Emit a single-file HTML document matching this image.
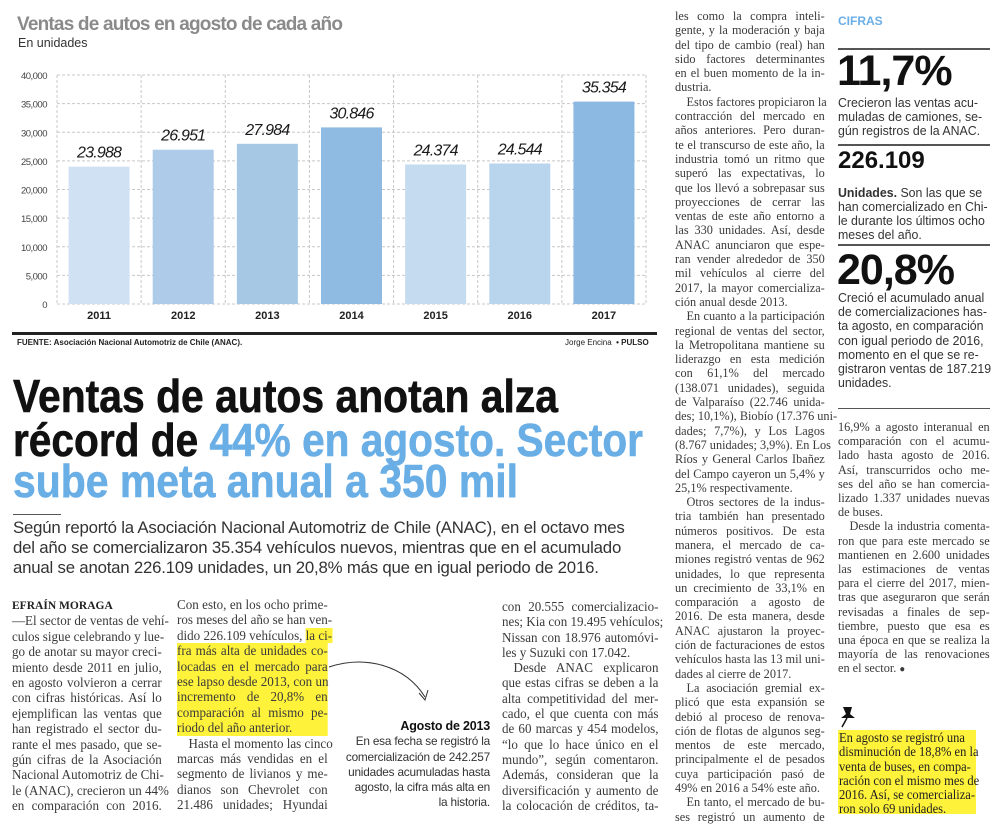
<!DOCTYPE html>
<html><head><meta charset="utf-8">
<style>
html,body{margin:0;padding:0;background:#fff;}
body{width:1000px;height:829px;position:relative;overflow:hidden;font-family:"Liberation Serif",serif;color:#333;}
.abs{position:absolute;}
.col{position:absolute;transform-origin:0 0;font-family:"Liberation Serif",serif;color:#3a3a3a;}
.col div{text-align:justify;text-align-last:justify;white-space:nowrap;overflow:visible;}
.col div.l{text-align-last:left;}
.col div.i{padding-left:12px;}
.sans{font-family:"Liberation Sans",sans-serif;}
.hl{background:#fff23a;}
.rule{position:absolute;height:2px;background:#555;}
.sc{position:absolute;transform-origin:0 0;font-family:"Liberation Sans",sans-serif;color:#333;}
.sc div{white-space:nowrap;}
</style></head><body>

<!-- Chart -->
<div class="abs sans" style="left:17px;top:14px;font-size:19px;font-weight:bold;color:#8a8a8a;letter-spacing:-0.8px;">Ventas de autos en agosto de cada año</div>
<div class="abs sans" style="left:18px;top:36px;font-size:12.5px;color:#333;">En unidades</div>
<svg class="abs" id="chart" style="left:0;top:60px;" width="665" height="270"></svg>
<div class="abs" style="left:12px;top:332px;width:645px;height:3px;background:#222;"></div>
<div class="abs sans" style="left:17px;top:338px;font-size:8px;font-weight:bold;color:#222;">FUENTE: Asociación Nacional Automotriz de Chile (ANAC).</div>
<div class="abs sans" style="left:565px;top:338px;font-size:8px;color:#222;">Jorge Encina &nbsp;<b>• PULSO</b></div>

<script>
const years=["2011","2012","2013","2014","2015","2016","2017"];
const sales=[23988,26951,27984,30846,24374,24544,35354];
const valueLabels=["23.988","26.951","27.984","30.846","24.374","24.544","35.354"];
const yTicks=[0,5000,10000,15000,20000,25000,30000,35000,40000];
const yTickLabels=["0","5,000","10,000","15,000","20,000","25,000","30,000","35,000","40,000"];
const barColors=["#cfe1f3","#aecbea","#a6c8e5","#8fbbe2","#c5dbf0","#b9d5ed","#8bb9e2"];
(function(){
const svg=document.getElementById('chart');
const NS="http://www.w3.org/2000/svg";
const L=57,R=646,T=15,B=244,yMax=40000;
const y=v=>B-(v/yMax)*(B-T);
const cw=(R-L)/years.length;
const x=i=>L+i*cw;
function mk(t,a){const e=document.createElementNS(NS,t);for(const k in a)e.setAttribute(k,a[k]);svg.appendChild(e);return e;}
yTicks.forEach((t,i)=>{
 const g=mk('line',{x1:L,x2:R,y1:y(t),y2:y(t),stroke:'#c8c8c8','stroke-width':1,'stroke-dasharray':'3,2'});
 
 
 const tx=mk('text',{x:47,y:y(t)+4,'text-anchor':'end','font-family':'Liberation Sans, sans-serif','font-size':9.5,fill:'#444','letter-spacing':'-0.5'});
 tx.textContent=yTickLabels[i];
 
 
});
for(let i=0;i<=years.length;i++){
 const g=mk('line',{x1:x(i),x2:x(i),y1:T,y2:B,stroke:'#c8c8c8','stroke-width':1,'stroke-dasharray':'3,2'});
 
 
}
const bw=61;
years.forEach((yr,i)=>{
 const cx=x(i)+cw/2;
 const r=mk('rect',{x:cx-bw/2,y:y(sales[i]),width:bw,height:B-y(sales[i]),fill:barColors[i]});
 
 
 const v=mk('text',{x:cx,y:y(sales[i])-9,'text-anchor':'middle','font-family':'Liberation Sans, sans-serif','font-size':16,'font-style':'italic',fill:'#1a1a1a','letter-spacing':'-0.8'});
 v.textContent=valueLabels[i];
 
 
 const l=mk('text',{x:cx,y:B+15,'text-anchor':'middle','font-family':'Liberation Sans, sans-serif','font-size':11,'font-weight':'bold',fill:'#222'});
 l.textContent=yr;
 
 
});
})();
</script>

<!-- Headline -->
<svg class="abs" style="left:0;top:360px;" width="665" height="150">
<text x="13" y="52" font-family="Liberation Sans, sans-serif" font-weight="bold" font-size="46" fill="#111" textLength="545" lengthAdjust="spacingAndGlyphs" stroke="#111" stroke-width="0.6">Ventas de autos anotan alza</text>
<text x="13" y="96" font-family="Liberation Sans, sans-serif" font-weight="bold" font-size="46" fill="#111" textLength="630" lengthAdjust="spacingAndGlyphs" stroke="#111" stroke-width="0.6">récord de <tspan fill="#6aaee6" stroke="#6aaee6">44% en agosto. Sector</tspan></text>
<text x="13" y="137" font-family="Liberation Sans, sans-serif" font-weight="bold" font-size="46" fill="#6aaee6" textLength="505" lengthAdjust="spacingAndGlyphs" stroke="#6aaee6" stroke-width="0.6">sube meta anual a 350 mil</text>
</svg>
<div class="abs" style="left:13px;top:514px;width:48px;height:1px;background:#555;"></div>
<div class="abs sans" style="left:13px;top:518px;width:660px;font-size:16.8px;line-height:20px;color:#333;letter-spacing:-0.2px;">Según reportó la Asociación Nacional Automotriz de Chile (ANAC), en el octavo mes<br>del año se comercializaron 35.354 vehículos nuevos, mientras que en el acumulado<br>anual se anotan 226.109 unidades, un 20,8% más que en igual periodo de 2016.</div>

<!-- Lower col 1 -->
<div class="col" style="left:12px;top:597px;width:156px;transform:scaleX(0.96);font-size:13.6px;line-height:15.4px;">
<div class="l"><b style="font-size:12px;color:#222;">EFRAÍN MORAGA</b></div>
<div>—El sector de ventas de vehí-</div>
<div>culos sigue celebrando y lue-</div>
<div>go de anotar su mayor creci-</div>
<div>miento desde 2011 en julio,</div>
<div>en agosto volvieron a cerrar</div>
<div>con cifras históricas. Así lo</div>
<div>ejemplifican las ventas que</div>
<div>han registrado el sector du-</div>
<div>rante el mes pasado, que se-</div>
<div>gún cifras de la Asociación</div>
<div>Nacional Automotriz de Chi-</div>
<div>le (ANAC), crecieron un 44%</div>
<div>en comparación con 2016.</div>
</div>

<!-- Lower col 2 -->
<div class="col" style="left:177px;top:597px;width:157px;transform:scaleX(0.96);font-size:13.6px;line-height:15.4px;">
<div>Con esto, en los ocho prime-</div>
<div>ros meses del año se han ven-</div>
<div>dido 226.109 vehículos, <span class="hl">la ci-</span></div>
<div class="hl">fra más alta de unidades co-</div>
<div class="hl">locadas en el mercado para</div>
<div class="hl">ese lapso desde 2013, con un</div>
<div class="hl">incremento de 20,8% en</div>
<div class="hl">comparación al mismo pe-</div>
<div class="hl l">riodo del año anterior.</div>
<div class="i">Hasta el momento las cinco</div>
<div>marcas más vendidas en el</div>
<div>segmento de livianos y me-</div>
<div>dianos son Chevrolet con</div>
<div>21.486 unidades; Hyundai</div>
</div>

<svg class="abs" style="left:325px;top:655px;" width="110" height="60">
<path d="M4,12 C40,0 80,10 100,42" fill="none" stroke="#333" stroke-width="1"/>
<path d="M94,38 L100,45 L103,35" fill="none" stroke="#333" stroke-width="1"/>
</svg>
<div class="abs sans" style="left:320px;top:719px;width:170px;text-align:right;font-size:11.8px;line-height:15.3px;color:#333;letter-spacing:-0.2px;">
<div style="font-weight:bold;color:#111;font-size:12.5px;">Agosto de 2013</div>
En esa fecha se registró la<br>comercialización de 242.257<br>unidades acumuladas hasta<br>agosto, la cifra más alta en<br>la historia.</div>

<!-- Lower col 3 -->
<div class="col" style="left:502px;top:599px;width:163px;transform:scaleX(0.96);font-size:13.6px;line-height:15.3px;">
<div>con 20.555 comercializacio-</div>
<div>nes; Kia con 19.495 vehículos;</div>
<div>Nissan con 18.976 automóvi-</div>
<div class="l">les y Suzuki con 17.042.</div>
<div class="i">Desde ANAC explicaron</div>
<div>que estas cifras se deben a la</div>
<div>alta competitividad del mer-</div>
<div>cado, el que cuenta con más</div>
<div>de 60 marcas y 454 modelos,</div>
<div>“lo que lo hace único en el</div>
<div>mundo”, según comentaron.</div>
<div>Además, consideran que la</div>
<div>diversificación y aumento de</div>
<div>la colocación de créditos, ta-</div>
</div>

<!-- Col 5 -->
<div class="col" style="left:675px;top:9px;width:156px;transform:scaleX(0.96);font-size:12.8px;line-height:14.3px;">
<div>les como la compra inteli-</div>
<div>gente, y la moderación y baja</div>
<div>del tipo de cambio (real) han</div>
<div>sido factores determinantes</div>
<div>en el buen momento de la in-</div>
<div class="l">dustria.</div>
<div class="i">Estos factores propiciaron la</div>
<div>contracción del mercado en</div>
<div>años anteriores. Pero duran-</div>
<div>te el transcurso de este año, la</div>
<div>industria tomó un ritmo que</div>
<div>superó las expectativas, lo</div>
<div>que los llevó a sobrepasar sus</div>
<div>proyecciones de cerrar las</div>
<div>ventas de este año entorno a</div>
<div>las 330 unidades. Así, desde</div>
<div>ANAC anunciaron que espe-</div>
<div>ran vender alrededor de 350</div>
<div>mil vehículos al cierre del</div>
<div>2017, la mayor comercializa-</div>
<div class="l">ción anual desde 2013.</div>
<div class="i">En cuanto a la participación</div>
<div>regional de ventas del sector,</div>
<div>la Metropolitana mantiene su</div>
<div>liderazgo en esta medición</div>
<div>con 61,1% del mercado</div>
<div>(138.071 unidades), seguida</div>
<div>de Valparaíso (22.746 unida-</div>
<div>des; 10,1%), Biobío (17.376 uni-</div>
<div>dades; 7,7%), y Los Lagos</div>
<div>(8.767 unidades; 3,9%). En Los</div>
<div>Ríos y General Carlos Ibañez</div>
<div>del Campo cayeron un 5,4% y</div>
<div class="l">25,1% respectivamente.</div>
<div class="i">Otros sectores de la indus-</div>
<div>tria también han presentado</div>
<div>números positivos. De esta</div>
<div>manera, el mercado de ca-</div>
<div>miones registró ventas de 962</div>
<div>unidades, lo que representa</div>
<div>un crecimiento de 33,1% en</div>
<div>comparación a agosto de</div>
<div>2016. De esta manera, desde</div>
<div>ANAC ajustaron la proyec-</div>
<div>ción de facturaciones de estos</div>
<div>vehículos hasta las 13 mil uni-</div>
<div class="l">dades al cierre de 2017.</div>
<div class="i">La asociación gremial ex-</div>
<div>plicó que esta expansión se</div>
<div>debió al proceso de renova-</div>
<div>ción de flotas de algunos seg-</div>
<div>mentos de este mercado,</div>
<div>principalmente el de pesados</div>
<div>cuya participación pasó de</div>
<div class="l">49% en 2016 a 54% este año.</div>
<div class="i">En tanto, el mercado de bu-</div>
<div>ses registró un aumento de</div>
</div>

<!-- Column 6: CIFRAS -->
<div class="abs sans" style="left:838px;top:14px;font-size:12px;font-weight:bold;color:#6aaee6;">CIFRAS</div>
<div class="rule" style="left:838px;top:48px;width:152px;"></div>
<div class="abs sans" style="left:837px;top:50px;font-size:43px;font-weight:bold;color:#111;letter-spacing:-1px;line-height:43px;">11,7%</div>
<div class="sc" style="left:838px;top:96px;width:160px;transform:scaleX(0.95);font-size:13px;line-height:14.2px;"><div>Crecieron las ventas acu-</div><div>muladas de camiones, se-</div><div>gún registros de la ANAC.</div></div>
<div class="rule" style="left:838px;top:144px;width:152px;"></div>
<div class="abs sans" style="left:838px;top:147px;font-size:24px;font-weight:bold;color:#111;line-height:28px;">226.109</div>
<div class="sc" style="left:838px;top:186px;width:160px;transform:scaleX(0.95);font-size:13px;line-height:14px;"><div><b>Unidades.</b> Son las que se</div><div>han comercializado en Chi-</div><div>le durante los últimos ocho</div><div>meses del año.</div></div>
<div class="rule" style="left:838px;top:244px;width:152px;"></div>
<div class="abs sans" style="left:837px;top:249px;font-size:43px;font-weight:bold;color:#111;letter-spacing:-1px;line-height:43px;">20,8%</div>
<div class="sc" style="left:838px;top:291px;width:160px;transform:scaleX(0.95);font-size:13px;line-height:14.2px;"><div>Creció el acumulado anual</div><div>de comercializaciones has-</div><div>ta agosto, en comparación</div><div>con igual periodo de 2016,</div><div>momento en el que se re-</div><div>gistraron ventas de 187.219</div><div>unidades.</div></div>
<div class="rule" style="left:838px;top:408px;width:152px;height:1px;"></div>

<div class="col" style="left:838px;top:420px;width:158px;transform:scaleX(0.96);font-size:12.8px;line-height:14.2px;">
<div>16,9% a agosto interanual en</div>
<div>comparación con el acumu-</div>
<div>lado hasta agosto de 2016.</div>
<div>Así, transcurridos ocho me-</div>
<div>ses del año se han comercia-</div>
<div>lizado 1.337 unidades nuevas</div>
<div class="l">de buses.</div>
<div class="i">Desde la industria comenta-</div>
<div>ron que para este mercado se</div>
<div>mantienen en 2.600 unidades</div>
<div>las estimaciones de ventas</div>
<div>para el cierre del 2017, mien-</div>
<div>tras que aseguraron que serán</div>
<div>revisadas a finales de sep-</div>
<div>tiembre, puesto que esa es</div>
<div>una época en que se realiza la</div>
<div>mayoría de las renovaciones</div>
<div class="l">en el sector. <span style="font-size:10px;">●</span></div>
</div>
<svg class="abs" style="left:838px;top:705px;" width="20" height="24">
<path d="M5,2 L14,2 L12,9 L17,13 L3,13 L8,9 Z" fill="#111"/><path d="M9,13 L4,22" stroke="#111" stroke-width="1.5"/>
</svg>
<div class="abs" style="left:838px;top:730px;width:138px;height:84px;background:#fff23a;"></div>
<div class="col" style="left:839px;top:731px;width:145px;transform:scaleX(0.95);font-size:13.2px;line-height:14.3px;color:#222;">
<div class="l">En agosto se registró una</div>
<div class="l">disminución de 18,8% en la</div>
<div class="l">venta de buses, en compa-</div>
<div class="l">ración con el mismo mes de</div>
<div class="l">2016. Así, se comercializa-</div>
<div class="l">ron solo 69 unidades.</div>
</div>

</body></html>
